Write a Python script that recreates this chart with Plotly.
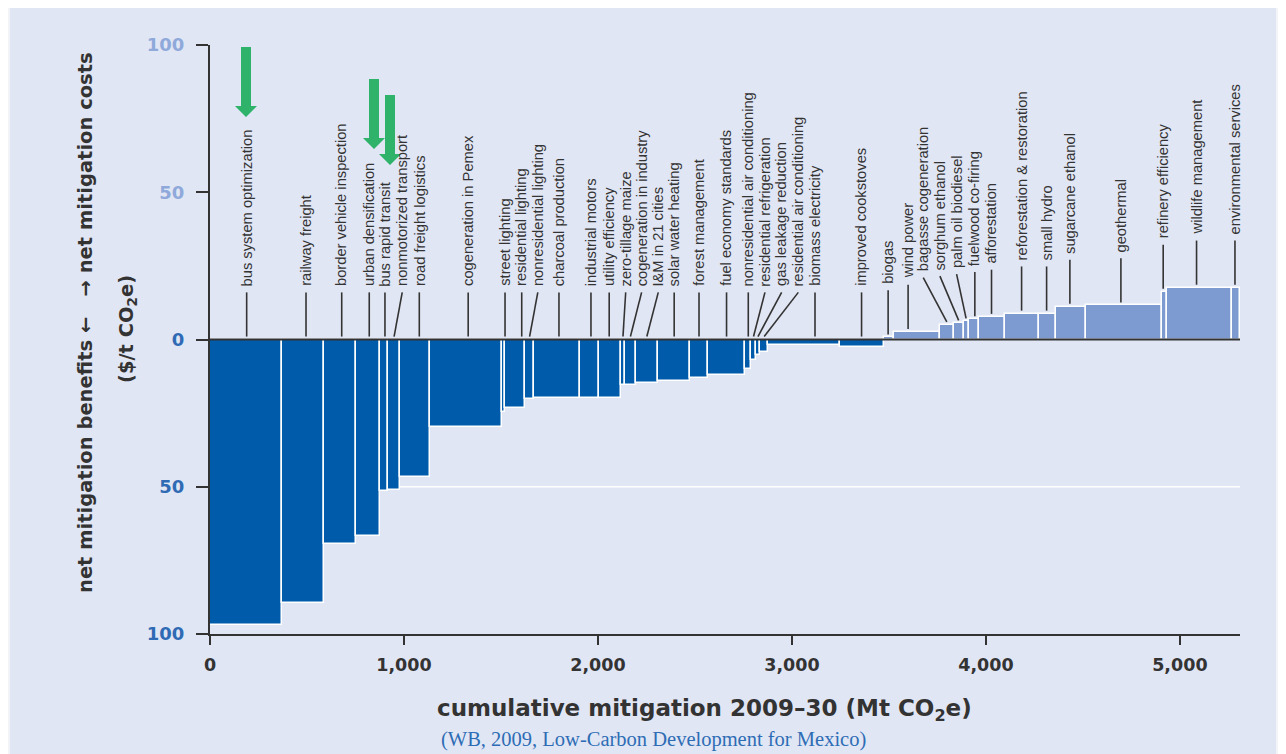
import numpy as np
import plotly.graph_objects as go

# ---------------- data ----------------
measures = [
    "bus system optimization", "railway freight", "border vehicle inspection",
    "urban densification", "bus rapid transit", "nonmotorized transport",
    "road freight logistics", "cogeneration in Pemex", "street lighting",
    "residential lighting", "nonresidential lighting", "charcoal production",
    "industrial motors", "utility efficiency", "zero-tillage maize",
    "cogeneration in industry", "I&M in 21 cities", "solar water heating",
    "forest management", "fuel economy standards", "nonresidential air conditioning",
    "residential refrigeration", "gas leakage reduction", "residential air conditioning",
    "biomass electricity", "improved cookstoves", "biogas", "wind power",
    "bagasse cogeneration", "sorghum ethanol", "palm oil biodiesel",
    "fuelwood co-firing", "afforestation", "reforestation & restoration",
    "small hydro", "sugarcane ethanol", "geothermal", "refinery efficiency",
    "wildlife management", "environmental services",
]
# cumulative mitigation potential of each measure (Mt CO2e)
mitigation = [373, 216, 165, 121, 44, 60, 155, 371, 17, 104, 43, 241, 95, 115,
              18, 59, 110, 165, 97, 188, 32, 26, 20, 44, 368, 226, 52, 238,
              71, 51, 26, 53, 136, 173, 88, 154, 391, 26, 338, 39]
# net mitigation cost ($/t CO2e), negative = net benefit
cost = [-97, -89.6, -69.5, -66.7, -51.5, -51, -46.7, -29.7, -24.7, -23.1,
        -20.2, -19.7, -19.7, -19.7, -15.6, -15.6, -14.7, -14.2, -13.2, -12.2,
        -10, -6.9, -5.2, -4.1, -2.0, -2.6, 0.7, 2.6, 5.0, 5.5, 6.2, 6.9,
        7.7, 8.8, 8.8, 11.1, 11.6, 16.2, 17.6, 17.6]

x_ticks = [0, 1000, 2000, 3000, 4000, 5000]
y_ticks = [-100, -50, 0, 50, 100]
y_ticktext = ["100", "50", "0", "50", "100"]

# ---------------- layout helpers ----------------
# label text centre positions along the x axis (layout only)
label_x = [189, 495, 679, 821, 902, 991, 1079, 1331, 1521, 1607, 1690, 1799,
           1964, 2058, 2143, 2225, 2311, 2393, 2521, 2663, 2775, 2861, 2947,
           3033, 3119, 3359, 3496, 3599, 3677, 3763, 3849, 3943, 4029, 4184,
           4313, 4433, 4696, 4914, 5086, 5284]

OFF = 8                      # page body margin
W, H = 1286 - OFF, 754 - OFF
L, R, T, B = 210, 1240, 45, 634   # plot area in window pixels
XMAX = 5310

def px_x(px):
    return (px - L) / (R - L)

def px_y(py):
    return (B - py) / (B - T)

BG = "#e1e6f4"
DARK = "#005baa"
LIGHT = "#7d9bd1"
INK = "#333333"
FONT = "Liberation Sans, Arial, sans-serif"
BOLD = "DejaVu Sans, sans-serif"

w = np.array(mitigation, dtype=float)
c = np.array(cost, dtype=float)
right = np.cumsum(w)
left = right - w
mid = (left + right) / 2
colors = [DARK if v < 0 else LIGHT for v in c]

fig = go.Figure()
fig.add_trace(go.Bar(
    x=mid, y=c, width=w, base=0,
    marker=dict(color=colors, line=dict(color="white", width=1.5)),
    hovertext=measures, showlegend=False,
))

# leader lines and measure labels
lx, ly = [], []
ann = []
for i, name in enumerate(measures):
    v = c[i]
    bottom = max(v, 0) + 1.0
    top = bottom + 15.0
    tx = label_x[i]
    bx = tx if left[i] <= tx <= right[i] else mid[i]
    lx += [bx, tx, None]
    ly += [bottom, top, None]
    ann.append(dict(
        x=tx, y=top + 1.4, xref="x", yref="y", text=name, textangle=-90,
        showarrow=False, xanchor="center", yanchor="bottom",
        font=dict(family=FONT, size=14.7, color=INK),
    ))
fig.add_trace(go.Scatter(x=lx, y=ly, mode="lines",
                         line=dict(color=INK, width=1.6),
                         hoverinfo="skip", showlegend=False))

shapes = []
# background panel
shapes.append(dict(type="rect", xref="paper", yref="paper",
                   x0=px_x(10), x1=px_x(1276), y0=px_y(8), y1=px_y(780),
                   fillcolor=BG, line=dict(width=0), layer="below"))
# white gridline at -50
shapes.append(dict(type="line", xref="x", yref="y", x0=0, x1=XMAX, y0=-50, y1=-50,
                   line=dict(color="white", width=1.5), layer="below"))
# zero line
shapes.append(dict(type="line", xref="x", yref="y", x0=0, x1=XMAX, y0=0, y1=0,
                   line=dict(color=INK, width=2), layer="above"))

# green arrows over the highlighted measures
GREEN = "#2fb36b"
arrows_px = [  # (centre x, shaft top, shaft bottom, tip) in window pixels
    (246, 47, 106, 117),
    (374, 79, 138, 149),
    (390, 95, 154, 165),
]
for cx, t0, sb, tip in arrows_px:
    path = (f"M {px_x(cx-5)} {px_y(t0)} L {px_x(cx+5)} {px_y(t0)} "
            f"L {px_x(cx+5)} {px_y(sb)} L {px_x(cx+11)} {px_y(sb)} "
            f"L {px_x(cx)} {px_y(tip)} L {px_x(cx-11)} {px_y(sb)} "
            f"L {px_x(cx-5)} {px_y(sb)} Z")
    shapes.append(dict(type="path", xref="paper", yref="paper", path=path,
                       fillcolor=GREEN, line=dict(width=0), layer="above"))

# axis titles and source
ann.append(dict(
    x=px_x(704), y=px_y(710), xref="paper", yref="paper", showarrow=False,
    text="cumulative mitigation 2009–30 (Mt CO<sub>2</sub>e)",
    font=dict(family=BOLD, size=23, color=INK, weight="bold"),
    xanchor="center", yanchor="middle"))
ann.append(dict(
    x=px_x(85), y=px_y(323), xref="paper", yref="paper", showarrow=False,
    text="net mitigation benefits \u2190   \u2192 net mitigation costs", textangle=-90,
    font=dict(family=BOLD, size=19.5, color=INK, weight="bold"),
    xanchor="center", yanchor="middle"))
ann.append(dict(
    x=px_x(127), y=px_y(329), xref="paper", yref="paper", showarrow=False,
    text="($/t CO<sub>2</sub>e)", textangle=-90,
    font=dict(family=BOLD, size=19.5, color=INK, weight="bold"),
    xanchor="center", yanchor="middle"))
ann.append(dict(
    x=px_x(653), y=px_y(739), xref="paper", yref="paper", showarrow=False,
    text="(WB, 2009, Low-Carbon Development for Mexico)",
    font=dict(family="Liberation Serif, serif", size=20.5, color="#2e6db5"),
    xanchor="center", yanchor="middle"))

tick_cols = ["#2f6bb4", "#2f6bb4", "#2f6bb4", "#8ea9da", "#8ea9da"]
y_tt = [f'<span style="color:{col}">{t}</span>' for t, col in zip(y_ticktext, tick_cols)]

fig.update_layout(
    width=W, height=H,
    margin=dict(l=L - OFF, r=W - (R - OFF), t=T - OFF, b=H - (B - OFF), pad=0),
    paper_bgcolor="#f3f4f8", plot_bgcolor="rgba(0,0,0,0)",
    bargap=0, showlegend=False,
    shapes=shapes, annotations=ann,
    xaxis=dict(range=[0, XMAX], tickvals=x_ticks, tickformat=",",
               showline=True, linecolor=INK, linewidth=2, ticks="outside",
               ticklen=9, tickwidth=1.5, tickcolor=INK, showgrid=False,
               zeroline=False, ticklabelstandoff=5,
               tickfont=dict(family=BOLD, size=17.5, color=INK, weight="bold")),
    yaxis=dict(range=[-100, 100], tickvals=y_ticks, ticktext=y_tt,
               showline=True, linecolor=INK, linewidth=2, ticks="outside",
               ticklen=12, tickwidth=1.5, tickcolor=INK, showgrid=False,
               zeroline=False, ticklabelstandoff=8,
               tickfont=dict(family=BOLD, size=18,
                             color="#2f6bb4", weight="bold")),
)

fig.write_html("out.html")
